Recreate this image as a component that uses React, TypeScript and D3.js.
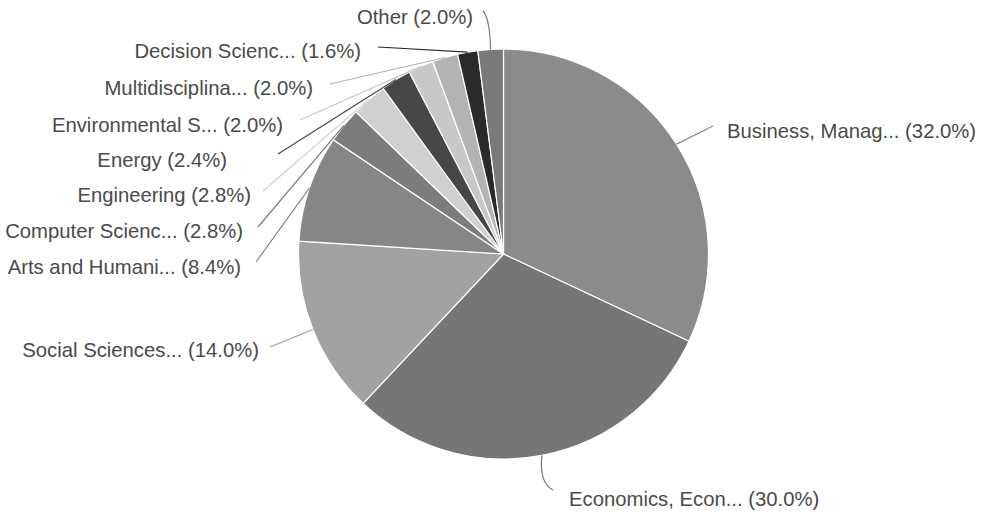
import React from "react";
import * as d3 from "d3";

const categories = [
  "Business, Manag...",
  "Economics, Econ...",
  "Social Sciences...",
  "Arts and Humani...",
  "Computer Scienc...",
  "Engineering",
  "Energy",
  "Environmental S...",
  "Multidisciplina...",
  "Decision Scienc...",
  "Other",
];
const values = [32.0, 30.0, 14.0, 8.4, 2.8, 2.8, 2.4, 2.0, 2.0, 1.6, 2.0];
const colors = [
  "#8b8b8b", "#767676", "#a2a2a2", "#868686", "#7c7c7c", "#d0d0d0",
  "#474747", "#c8c8c8", "#b3b3b3", "#2a2a2a", "#7a7a7a",
];
// label anchor: [x, y(center), anchor, lineEndX, lineEndY, curve]
const labelLayout: [number, number, "start" | "end" | "middle", number, number, number][] = [
  [727, 131, "start", 713, 126, 0],
  [569, 499, "start", 553, 490, 1],
  [259, 350, "end", 270, 347, 0],
  [241, 267, "end", 256, 262, 0],
  [243, 231, "end", 258, 227, 0],
  [251, 195, "end", 263, 191, 0],
  [227, 160, "end", 278, 154, 0],
  [283, 125, "end", 300, 120, 0],
  [313, 88, "end", 330, 84, 0],
  [361, 51, "end", 378, 47, 0],
  [415, 17, "middle", 483, 11, 1],
];

export default function App() {
  const W = 982, H = 512;
  const cx = 503.5, cy = 254, r = 205;
  const pie = d3.pie<number>().sort(null).value((d) => d)(values);
  const arc = d3.arc<d3.PieArcDatum<number>>().innerRadius(0).outerRadius(r);
  return (
    <svg width={W} height={H} style={{ position: "absolute", left: 0, top: 0, background: "#fff" }}
      fontFamily="'Liberation Sans', Arial, sans-serif">
      <g transform={`translate(${cx},${cy})`}>
        {pie.map((p, i) => (
          <path key={i} d={arc(p) || ""} fill={colors[i]} stroke="#fff" strokeWidth={1.2} />
        ))}
      </g>
      {pie.map((p, i) => {
        const mid = (p.startAngle + p.endAngle) / 2;
        const ex = cx + r * Math.sin(mid);
        const ey = cy - r * Math.cos(mid);
        const [lx, ly, anchor, tx, ty, curve] = labelLayout[i];
        let d: string;
        if (curve) {
          const qx = ex + (tx - ex) * 0.1 + (i === 10 ? 0 : -4);
          const qy = ey + (ty - ey) * 0.8;
          d = `M${ex},${ey} Q${qx},${qy} ${tx},${ty}`;
        } else {
          d = `M${ex},${ey} L${tx},${ty}`;
        }
        return (
          <g key={i}>
            <path d={d} fill="none" stroke={colors[i]} strokeWidth={1.2} />
            <text x={lx} y={ly} dy="0.35em" textAnchor={anchor} fontSize={20.3} fill="#4a4a4a">
              {`${categories[i]} (${values[i].toFixed(1)}%)`}
            </text>
          </g>
        );
      })}
    </svg>
  );
}
